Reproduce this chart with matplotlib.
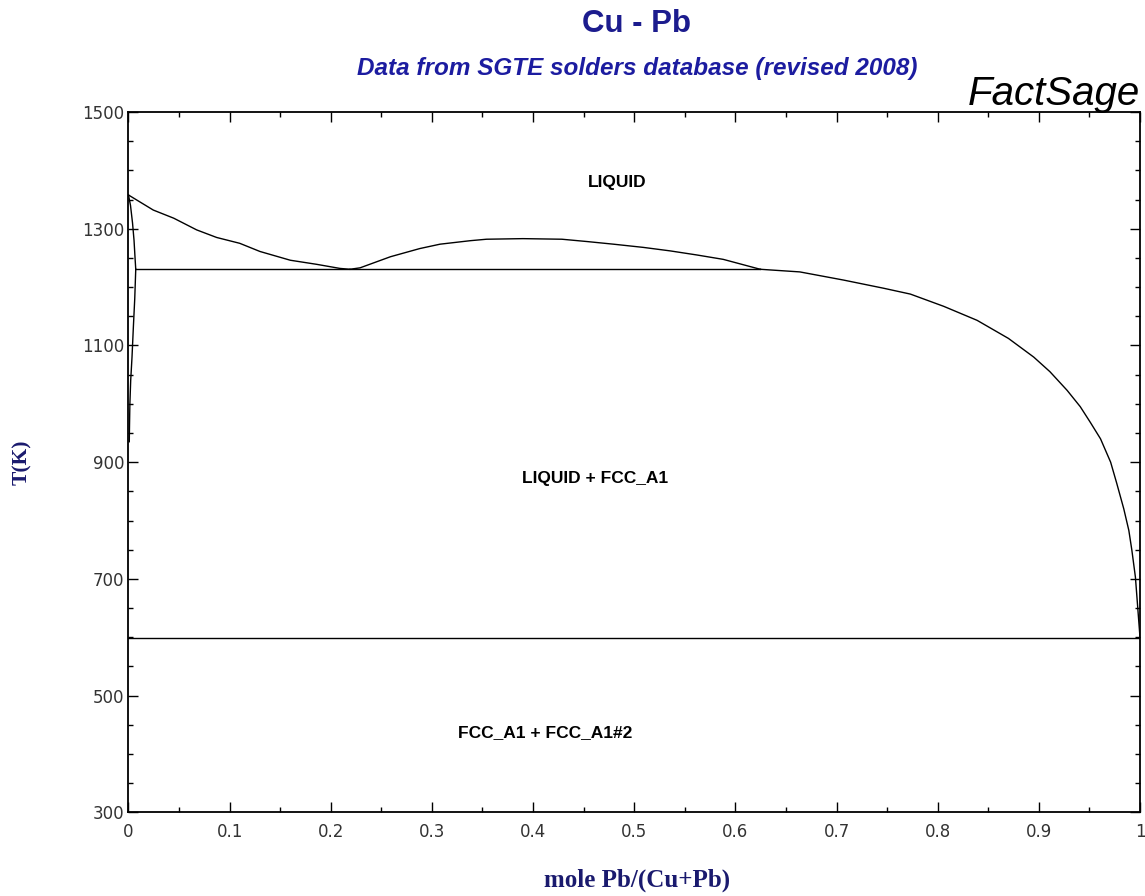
import matplotlib
matplotlib.use("Agg")
import matplotlib.pyplot as plt
from matplotlib.ticker import MultipleLocator, FixedLocator

# Cu-rich liquidus: Cu melting point down to the monotectic
liq_cu_x = [0.0, 0.0245, 0.0448, 0.0674, 0.0872, 0.110, 0.130, 0.160, 0.186, 0.209, 0.219]
liq_cu_T = [1357.8, 1332, 1318, 1298, 1285, 1275, 1261, 1246, 1239, 1232, 1230.5]

# Liquid miscibility gap
gap_x = [0.219, 0.229, 0.259, 0.288, 0.308, 0.338, 0.354, 0.39, 0.4285, 0.4535,
         0.4795, 0.509, 0.5356, 0.562, 0.588, 0.6246]
gap_T = [1230.5, 1233, 1252, 1266, 1273.5, 1279.5, 1282, 1283, 1282, 1278,
         1273.5, 1268, 1262, 1255, 1247.5, 1230.5]

# Pb-rich liquidus down to the Pb melting point
liq_pb_x = [0.6246, 0.6637, 0.707, 0.7466, 0.773, 0.806, 0.839, 0.870, 0.895,
            0.911, 0.928, 0.941, 0.951, 0.961, 0.971, 0.977, 0.984, 0.989, 0.992,
            0.9955, 0.997, 1.0]
liq_pb_T = [1230.5, 1226, 1212, 1198, 1188, 1167, 1143, 1112, 1080,
            1055, 1023, 995, 968, 940, 900, 864, 820, 783, 749,
            703, 669, 600.6]

# FCC_A1 (Cu) solidus and solvus
sol_x = [0.0, 0.002, 0.004, 0.0055, 0.0065, 0.0072]
sol_T = [1357.8, 1340, 1310, 1280, 1250, 1230.5]
solv_x = [0.0072, 0.0062, 0.0048, 0.0035, 0.0022, 0.0014, 0.0010, 0.0008]
solv_T = [1230.5, 1180, 1130, 1080, 1040, 1000, 960, 935]

# Invariant lines
monotectic_x = [0.0072, 0.6246]
monotectic_T = [1230.5, 1230.5]
eutectic_x = [0.0, 1.0]
eutectic_T = [599.5, 599.5]

# Phase field labels
region_labels = ["LIQUID", "LIQUID + FCC_A1", "FCC_A1 + FCC_A1#2"]
region_x = [0.483, 0.461, 0.412]
region_T = [1380, 872, 437]

x_ticks = [0, 0.1, 0.2, 0.3, 0.4, 0.5, 0.6, 0.7, 0.8, 0.9, 1.0]
x_ticklabels = ["0", "0.1", "0.2", "0.3", "0.4", "0.5", "0.6", "0.7", "0.8", "0.9", "1"]
y_ticks = [300, 500, 700, 900, 1100, 1300, 1500]

W, H = 1145, 896
fig = plt.figure(figsize=(W / 100, H / 100), dpi=100)
ax = fig.add_axes([0.1122, 0.0934, 0.8834, 0.7816])

lw = 1.0
for xs, ts in [(liq_cu_x, liq_cu_T), (gap_x, gap_T), (liq_pb_x, liq_pb_T),
               (sol_x, sol_T), (solv_x, solv_T),
               (monotectic_x, monotectic_T), (eutectic_x, eutectic_T)]:
    ax.plot(xs, ts, color="black", lw=lw, solid_joinstyle="miter")

ax.set_xlim(0, 1)
ax.set_ylim(300, 1500)

ax.xaxis.set_major_locator(FixedLocator(x_ticks))
ax.set_xticklabels(x_ticklabels)
ax.xaxis.set_minor_locator(MultipleLocator(0.05))
ax.yaxis.set_major_locator(FixedLocator(y_ticks))
ax.yaxis.set_minor_locator(MultipleLocator(50))

ax.tick_params(which="both", direction="in", top=True, right=True, width=1.0,
               colors="black", labelcolor="#333333", labelsize=12)
ax.tick_params(which="major", length=7)
ax.tick_params(which="minor", length=3.5)
ax.tick_params(axis="x", pad=8)
ax.tick_params(axis="y", pad=3)
for s in ax.spines.values():
    s.set_linewidth(1.3)

for lab, xx, tt in zip(region_labels, region_x, region_T):
    ax.text(xx, tt, lab, ha="center", va="center", fontsize=12.5,
            fontweight="bold", family="Liberation Sans", color="black")

fig.text(637 / W, 1 - 24 / H, "Cu - Pb", ha="center", va="center", fontsize=22.5,
         fontweight="bold", family="Liberation Sans", color="#1c1c8e")
fig.text(637 / W, 1 - 68 / H, "Data from SGTE solders database (revised 2008)",
         ha="center", va="center", fontsize=17.5, fontweight="bold",
         style="italic", family="Liberation Sans", color="#1c1ca0")
fig.text(1140 / W, 1 - 94 / H, "FactSage", ha="right", va="center", fontsize=29,
         style="italic", family="Liberation Sans", color="black")

fig.text(22 / W, 1 - 462 / H, "T(K)", rotation=90, ha="center", va="center",
         family="Liberation Serif", fontweight="bold", fontsize=15.5, color="#1a1a6e")
fig.text(637 / W, 1 - 880 / H, "mole Pb/(Cu+Pb)", ha="center", va="center",
         family="Liberation Serif", fontweight="bold", fontsize=18, color="#1a1a6e")

fig.savefig("out.png", dpi=100)
